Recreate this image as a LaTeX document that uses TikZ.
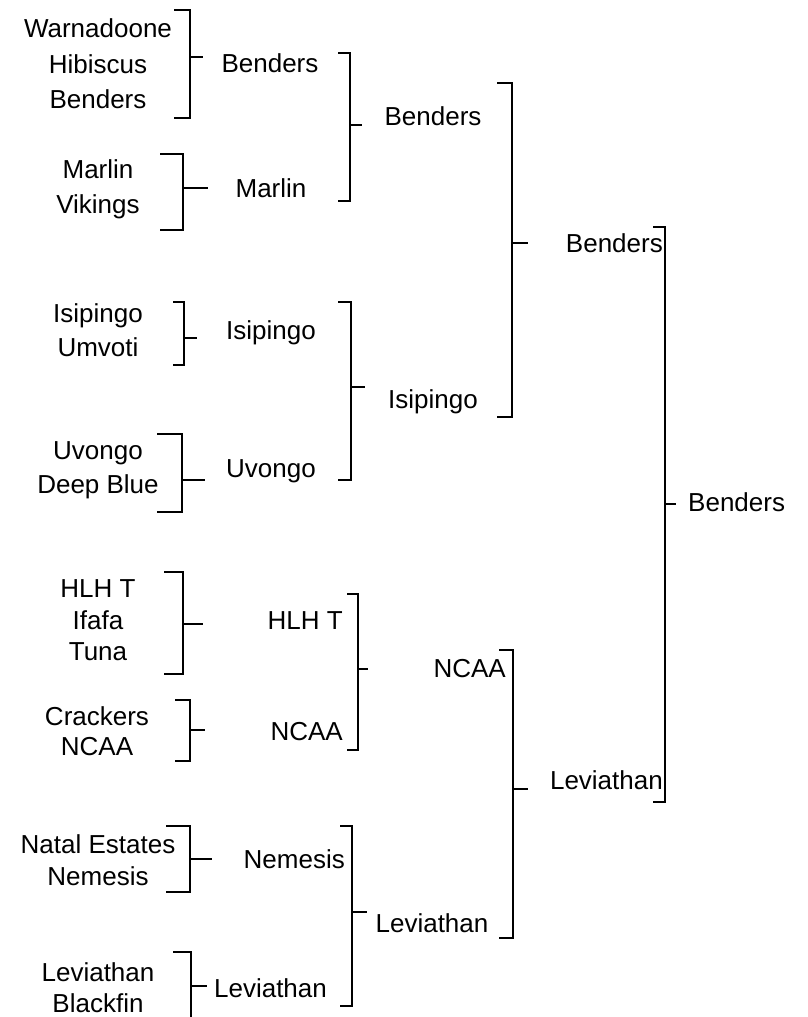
\documentclass[tikz,border=0pt]{standalone}
\usepackage{fontspec}
\setmainfont{Liberation Sans}
\begin{document}
\begin{tikzpicture}[x=1pt,y=-1pt,
  lbl/.style={anchor=base, inner sep=0pt, font=\fontsize{26}{31}\selectfont},
  brk/.style={draw=black, line width=1.8pt, line cap=butt, line join=miter}]
\useasboundingbox (0,0) rectangle (807,1017);
\clip (0,0) rectangle (807,1017);
\newcommand{\bracketpath}[6]{%
  \draw[brk] (#4,#2) -- (#1,#2) -- (#1,#3) -- (#4,#3);
  \draw[brk] (#1,#5) -- (#6,#5);}
% Round 1 lists
\node[lbl] (a1) at (98,37) {Warnadoone};
\node[lbl] (a2) at (98,73) {Hibiscus};
\node[lbl] (a3) at (98,108) {Benders};
\node[lbl] (b1) at (98,178) {Marlin};
\node[lbl] (b2) at (98,213) {Vikings};
\node[lbl] (d1) at (98,322) {Isipingo};
\node[lbl] (d2) at (98,356) {Umvoti};
\node[lbl] (e1) at (98,459) {Uvongo};
\node[lbl] (e2) at (98,493) {Deep Blue};
\node[lbl] (h1) at (98,597) {HLH T};
\node[lbl] (h2) at (98,629) {Ifafa};
\node[lbl] (h3) at (98,660) {Tuna};
\node[lbl] (i1) at (97,725) {Crackers};
\node[lbl] (i2) at (97,755) {NCAA};
\node[lbl] (m1) at (98,853) {Natal Estates};
\node[lbl] (m2) at (98,885) {Nemesis};
\node[lbl] (n1) at (98,981) {Leviathan};
\node[lbl] (n2) at (98,1012) {Blackfin};
% Round 2 winners
\node[lbl] (r2a) at (270,72) {Benders};
\node[lbl] (r2b) at (271,197) {Marlin};
\node[lbl] (r2d) at (271,339) {Isipingo};
\node[lbl] (r2e) at (271,477) {Uvongo};
\node[lbl, anchor=base east] (r2h) at (343,629) {HLH T};
\node[lbl, anchor=base east] (r2i) at (343,740) {NCAA};
\node[lbl, anchor=base east] (r2m) at (345,868) {Nemesis};
\node[lbl] (r2n) at (270.5,997) {Leviathan};
% Round 3 winners
\node[lbl] (r3c) at (433,125) {Benders};
\node[lbl] (r3f) at (433,408) {Isipingo};
\node[lbl, anchor=base east] (r3j) at (506,677) {NCAA};
\node[lbl] (r3o) at (432,932) {Leviathan};
% Round 4 winners
\node[lbl, anchor=base east] (r4g) at (663,252) {Benders};
\node[lbl, anchor=base east] (r4k) at (663,789) {Leviathan};
% Final
\node[lbl, anchor=base west] (fin) at (688,511) {Benders};
% Brackets: x, top, bottom, tick-left, mid y, mid-right
\bracketpath{190}{10}{118}{174}{57}{203}
\bracketpath{183}{154}{230}{160}{188}{208}
\bracketpath{350}{53}{201}{338}{125}{362}
\bracketpath{184}{302}{365}{173}{338}{197}
\bracketpath{182}{434}{512}{157}{480}{205}
\bracketpath{351}{302}{480}{338}{387}{365}
\bracketpath{512}{83}{417}{497}{243}{528}
\bracketpath{183}{572}{674}{164}{624}{203}
\bracketpath{190}{700}{761}{175}{730}{205}
\bracketpath{358}{594}{750}{347}{669}{368}
\bracketpath{513}{650}{938}{499}{789}{528}
\bracketpath{665}{227}{802}{653}{504}{676}
\bracketpath{190}{826}{892}{166}{859}{212}
\bracketpath{191}{952}{1040}{173}{986}{207}
\bracketpath{352}{826}{1006}{340}{912}{367}
\end{tikzpicture}
\end{document}
